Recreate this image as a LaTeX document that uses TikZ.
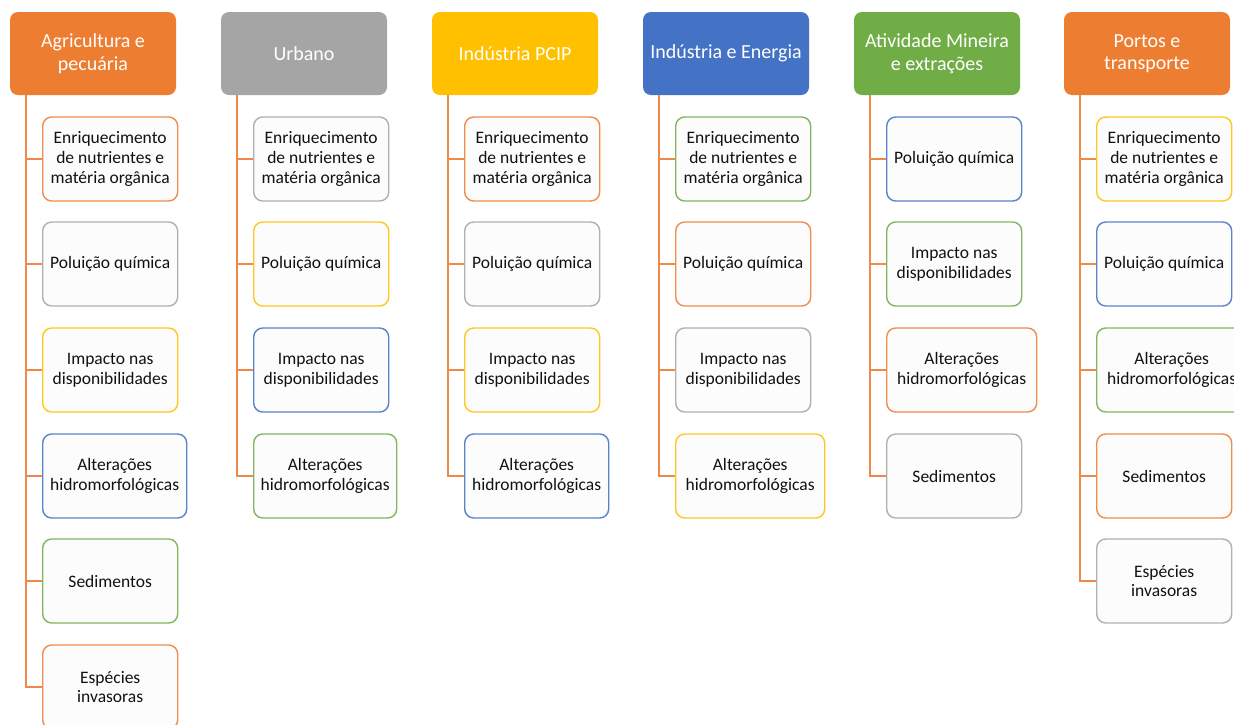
\documentclass[tikz,border=0pt]{standalone}
\usepackage{fontspec}
\setmainfont{Carlito}
\usetikzlibrary{calc}
\definecolor{cOr}{HTML}{ED7D31}
\definecolor{cGr}{HTML}{A5A5A5}
\definecolor{cYe}{HTML}{FFC000}
\definecolor{cBl}{HTML}{4472C4}
\definecolor{cGn}{HTML}{70AD47}
\definecolor{cLine}{HTML}{F0884A}
\definecolor{cTxt}{HTML}{111111}
\tikzset{
  hdr/.style={rectangle, rounded corners=8pt, fill=#1, draw=none, text=white,
    minimum width=166pt, minimum height=83pt, inner sep=2pt, align=center,
    font=\fontsize{20}{22.5}\selectfont},
  kid/.style={rectangle, rounded corners=9pt, draw=#1!88!white, line width=1.4pt,
    fill=white!99!black, text=cTxt, minimum height=84pt, inner sep=2pt,
    anchor=west, align=center, font=\fontsize{17.5}{19.7}\selectfont},
  conn/.style={draw=cLine, line width=1.6pt}
}
\newcommand{\mkkid}[6]{\node[kid=#4, minimum width=#5pt] (#1) at (#2,#3) {#6};}
\begin{document}
\begin{tikzpicture}[x=1pt,y=-1pt]
\clip (0,0) rectangle (1234,724);
\fill[white] (0,0) rectangle (1234,724);
% headers
\node[hdr=cOr] (h1) at (93,53.5) {Agricultura e\\pecuária};
\node[hdr=cGr] (h2) at (304,53.5) {Urbano};
\node[hdr=cYe] (h3) at (515,53.5) {Indústria PCIP};
\node[hdr=cBl] (h4) at (726,53.5) {Indústria e Energia};
\node[hdr=cGn] (h5) at (937,53.5) {Atividade Mineira\\e extrações};
\node[hdr=cOr] (h6) at (1147,53.5) {Portos e\\transporte};
% trunk coordinates
\coordinate (t1) at ($(h1.south west)+(16,0)$);
\coordinate (t2) at ($(h2.south west)+(16,0)$);
\coordinate (t3) at ($(h3.south west)+(16,0)$);
\coordinate (t4) at ($(h4.south west)+(16,0)$);
\coordinate (t5) at ($(h5.south west)+(16,0)$);
\coordinate (t6) at ($(h6.south west)+(16,0)$);
% column 1
\mkkid{a1}{42}{159}{cOr}{135}{Enriquecimento\\de nutrientes e\\matéria orgânica}
\mkkid{a2}{42}{264}{cGr}{135}{Poluição química}
\mkkid{a3}{42}{370}{cYe}{135}{Impacto nas\\disponibilidades}
\mkkid{a4}{42}{476}{cBl}{144}{Alterações\\hidromorfológicas}
\mkkid{a5}{42}{581}{cGn}{135}{Sedimentos}
\mkkid{a6}{42}{687}{cOr}{135}{Espécies\\invasoras}
% column 2
\mkkid{b1}{253}{159}{cGr}{135}{Enriquecimento\\de nutrientes e\\matéria orgânica}
\mkkid{b2}{253}{264}{cYe}{135}{Poluição química}
\mkkid{b3}{253}{370}{cBl}{135}{Impacto nas\\disponibilidades}
\mkkid{b4}{253}{476}{cGn}{143}{Alterações\\hidromorfológicas}
% column 3
\mkkid{c1}{464}{159}{cOr}{135}{Enriquecimento\\de nutrientes e\\matéria orgânica}
\mkkid{c2}{464}{264}{cGr}{135}{Poluição química}
\mkkid{c3}{464}{370}{cYe}{135}{Impacto nas\\disponibilidades}
\mkkid{c4}{464}{476}{cBl}{144}{Alterações\\hidromorfológicas}
% column 4
\mkkid{d1}{675}{159}{cGn}{135}{Enriquecimento\\de nutrientes e\\matéria orgânica}
\mkkid{d2}{675}{264}{cOr}{135}{Poluição química}
\mkkid{d3}{675}{370}{cGr}{135}{Impacto nas\\disponibilidades}
\mkkid{d4}{675}{476}{cYe}{149}{Alterações\\hidromorfológicas}
% column 5
\mkkid{e1}{886}{159}{cBl}{135}{Poluição química}
\mkkid{e2}{886}{264}{cGn}{135}{Impacto nas\\disponibilidades}
\mkkid{e3}{886}{370}{cOr}{150}{Alterações\\hidromorfológicas}
\mkkid{e4}{886}{476}{cGr}{135}{Sedimentos}
% column 6
\mkkid{f1}{1096}{159}{cYe}{135}{Enriquecimento\\de nutrientes e\\matéria orgânica}
\mkkid{f2}{1096}{264}{cBl}{135}{Poluição química}
\mkkid{f3}{1096}{370}{cGn}{150}{Alterações\\hidromorfológicas}
\mkkid{f4}{1096}{476}{cOr}{135}{Sedimentos}
\mkkid{f5}{1096}{581}{cGr}{135}{Espécies\\invasoras}
% connectors
\draw[conn] (t1) |- (a6.west);
\foreach \k in {a1,a2,a3,a4,a5} \draw[conn] (\k.west -| t1) -- (\k.west);
\draw[conn] (t2) |- (b4.west);
\foreach \k in {b1,b2,b3} \draw[conn] (\k.west -| t2) -- (\k.west);
\draw[conn] (t3) |- (c4.west);
\foreach \k in {c1,c2,c3} \draw[conn] (\k.west -| t3) -- (\k.west);
\draw[conn] (t4) |- (d4.west);
\foreach \k in {d1,d2,d3} \draw[conn] (\k.west -| t4) -- (\k.west);
\draw[conn] (t5) |- (e4.west);
\foreach \k in {e1,e2,e3} \draw[conn] (\k.west -| t5) -- (\k.west);
\draw[conn] (t6) |- (f5.west);
\foreach \k in {f1,f2,f3,f4} \draw[conn] (\k.west -| t6) -- (\k.west);
\end{tikzpicture}
\end{document}
